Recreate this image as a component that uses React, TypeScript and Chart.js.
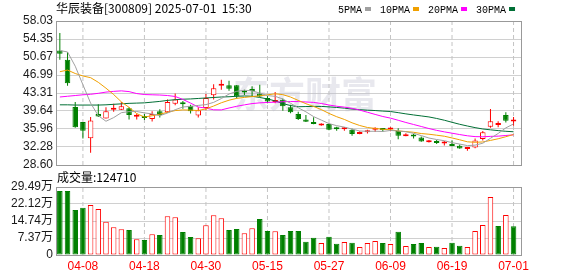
import React, { useEffect, useRef } from 'react';
import { Chart, registerables } from 'chart.js';

Chart.register(...registerables);

// ---------------- data ----------------
const dates = [
  '04-02', '04-03', '04-07', '04-08', '04-09', '04-10', '04-11', '04-14', '04-15', '04-16',
  '04-17', '04-18', '04-21', '04-22', '04-23', '04-24', '04-25', '04-28', '04-29', '04-30',
  '05-06', '05-07', '05-08', '05-09', '05-12', '05-13', '05-14', '05-15', '05-16', '05-19',
  '05-20', '05-21', '05-22', '05-23', '05-26', '05-27', '05-28', '05-29', '05-30', '06-03',
  '06-04', '06-05', '06-06', '06-09', '06-10', '06-11', '06-12', '06-13', '06-16', '06-17',
  '06-18', '06-19', '06-20', '06-23', '06-24', '06-25', '06-26', '06-27', '06-30', '07-01',
];

const openP = [
  52.0, 50.1, 40.45, 37.4, 34.05, 39.0, 38.1, 39.9, 39.9, 40.2,
  38.45, 38.45, 38.0, 39.6, 39.4, 41.1, 41.1, 40.7, 38.7, 40.25,
  42.85, 44.8, 44.9, 44.9, 43.6, 43.9, 43.2, 42.3, 41.5, 41.95,
  40.4, 39.0, 37.9, 37.3, 36.65, 37.0, 36.05, 35.9, 35.8, 34.95,
  35.3, 35.8, 35.9, 35.85, 35.55, 34.5, 34.6, 34.2, 33.25, 33.45,
  33.0, 32.9, 32.55, 31.85, 32.2, 33.9, 36.4, 36.8, 38.8, 37.5,
];
const highP = [
  55.6, 51.7, 41.5, 37.4, 38.4, 41.0, 40.4, 41.1, 41.5, 40.4,
  39.1, 39.0, 39.6, 40.0, 42.0, 43.2, 41.7, 40.9, 40.4, 43.1,
  45.1, 46.0, 45.8, 44.95, 44.0, 44.7, 45.0, 42.7, 43.5, 42.2,
  40.9, 39.5, 38.8, 38.35, 37.15, 37.1, 36.4, 36.35, 36.0, 35.5,
  35.8, 36.3, 36.1, 36.3, 36.1, 35.1, 35.0, 34.4, 33.7, 33.7,
  33.5, 33.6, 32.8, 32.2, 34.0, 35.55, 40.05, 37.55, 39.4, 38.4,
];
const lowP = [
  50.1, 44.8, 36.2, 34.0, 31.1, 38.4, 38.1, 39.5, 39.85, 37.9,
  37.9, 37.8, 37.5, 38.3, 39.3, 40.8, 40.1, 39.1, 38.3, 39.8,
  42.0, 44.0, 43.8, 42.2, 42.9, 42.6, 42.5, 41.2, 41.2, 39.7,
  39.2, 37.8, 37.4, 36.95, 36.6, 35.7, 35.6, 35.6, 34.6, 34.9,
  35.05, 35.35, 35.4, 35.5, 33.85, 34.5, 34.0, 33.35, 33.2, 32.9,
  32.6, 32.45, 31.9, 31.5, 32.0, 33.6, 36.2, 36.3, 37.3, 36.6,
];
const closeP = [
  51.35, 45.3, 36.3, 35.6, 37.7, 38.5, 39.6, 40.05, 40.6, 38.8,
  38.6, 38.2, 39.0, 38.8, 41.5, 42.0, 41.0, 39.6, 39.8, 42.3,
  44.3, 44.9, 44.2, 42.6, 43.4, 43.7, 42.6, 41.6, 41.9, 40.6,
  39.4, 38.0, 37.45, 37.0, 37.05, 35.8, 35.9, 36.0, 34.95, 35.1,
  35.45, 36.0, 35.75, 36.0, 34.6, 34.6, 34.45, 33.4, 33.5, 33.1,
  33.35, 32.5, 31.95, 31.9, 33.6, 35.3, 37.55, 36.85, 37.65, 37.6,
];

const ma5 = [
  52.0, 51.7, 48.8, 45.0, 41.25, 38.68, 37.54, 38.29, 39.29, 39.51,
  39.53, 39.25, 39.04, 38.68, 39.22, 39.9, 40.46, 40.58, 40.78, 40.94,
  41.4, 42.18, 43.1, 43.66, 43.88, 43.76, 43.3, 42.78, 42.64, 42.08,
  41.22, 40.3, 39.47, 38.49, 37.78, 37.06, 36.64, 36.35, 35.94, 35.55,
  35.48, 35.5, 35.45, 35.66, 35.56, 35.39, 35.08, 34.61, 34.11, 33.81,
  33.56, 33.17, 32.88, 32.56, 32.66, 33.05, 34.06, 35.04, 36.19, 36.99,
];
const ma10 = [
  47.67, 48.0, 47.3, 46.79, 46.45, 45.5, 44.3, 43.0, 41.5, 40.38,
  39.11, 38.4, 38.67, 38.99, 39.37, 39.72, 39.86, 39.81, 39.73, 40.08,
  40.65, 41.32, 41.84, 42.22, 42.41, 42.58, 42.74, 42.94, 43.15, 42.98,
  42.49, 41.8, 41.13, 40.57, 39.93, 39.14, 38.47, 37.91, 37.22, 36.67,
  36.27, 36.07, 35.9, 35.8, 35.56, 35.44, 35.29, 35.03, 34.89, 34.69,
  34.48, 34.13, 33.75, 33.34, 33.24, 33.31, 33.62, 33.96, 34.38, 34.83,
];
const ma20 = [
  42.5, 42.65, 42.8, 42.95, 43.05, 43.25, 43.5, 43.65, 43.75, 43.6,
  43.2, 43.0, 42.95, 42.9, 42.8, 42.6, 42.0, 41.25, 40.45, 40.23,
  39.88, 39.86, 40.25, 40.6, 40.89, 41.15, 41.3, 41.38, 41.44, 41.53,
  41.57, 41.56, 41.48, 41.39, 41.17, 40.86, 40.61, 40.43, 40.18, 39.82,
  39.38, 38.94, 38.51, 38.18, 37.74, 37.29, 36.88, 36.47, 36.05, 35.68,
  35.37, 35.1, 34.82, 34.57, 34.4, 34.37, 34.45, 34.5, 34.63, 34.76,
];
const ma30 = [
  40.9, 40.9, 40.85, 40.85, 40.85, 40.85, 40.9, 41.0, 41.1, 41.2,
  41.25, 41.3, 41.45, 41.6, 41.8, 41.95, 42.05, 42.1, 42.2, 42.3,
  42.4, 42.5, 42.55, 42.65, 42.7, 42.65, 42.4, 42.1, 41.7, 41.15,
  40.75, 40.51, 40.54, 40.59, 40.57, 40.48, 40.36, 40.22, 40.03, 39.91,
  39.8, 39.73, 39.62, 39.53, 39.3, 39.05, 38.83, 38.63, 38.42, 38.11,
  37.75, 37.33, 36.92, 36.57, 36.24, 35.96, 35.79, 35.63, 35.49, 35.39,
];

// volume in 万 (10k)
const volume = [
  27.76, 27.76, 19.52, 20.53, 21.69, 19.95, 14.46, 11.99, 11.13, 10.84,
  6.79, 6.5, 8.96, 8.67, 16.77, 16.33, 9.97, 7.81, 7.23, 12.86,
  17.2, 15.9, 10.84, 11.28, 9.4, 11.56, 15.61, 10.41, 10.26, 8.67,
  10.41, 10.41, 5.78, 7.52, 5.2, 7.95, 4.91, 5.64, 5.35, 3.47,
  5.2, 6.07, 5.2, 4.77, 10.12, 3.9, 4.77, 5.2, 3.47, 3.61,
  3.04, 5.35, 4.05, 3.47, 10.41, 13.01, 25.15, 12.58, 17.35, 12.47,
];
// 1 = red (up) volume bar, 0 = green
const volumeUp = [
  0, 0, 0, 0, 1, 1, 1, 1, 1, 0,
  1, 0, 1, 0, 1, 1, 0, 0, 1, 1,
  1, 1, 0, 0, 1, 1, 0, 0, 1, 0,
  0, 0, 0, 0, 1, 0, 0, 1, 0, 1,
  1, 1, 0, 1, 0, 1, 0, 0, 1, 0,
  1, 0, 0, 1, 1, 1, 1, 0, 1, 0,
];

const priceTicks = [58.03, 54.35, 50.67, 46.99, 43.31, 39.64, 35.96, 32.28, 28.6];
const volumeTicks = [29.49, 22.12, 14.74, 7.37, 0];
const tickDates = ['04-08', '04-18', '04-30', '05-15', '05-27', '06-09', '06-19', '07-01'];

const stockName = '华辰装备';
const stockCode = '300809';
const stamp = '2025-07-01  15:30';
const lastVolume = 124710;
const maLabels = ['5PMA', '10PMA', '20PMA', '30PMA'];

// ---------------- styles ----------------
const RED = '#ff0000';
const GREEN = '#008000';
const MA_COLORS = ['#a0a0a0', '#f0a000', '#ff00ff', '#006f35'];
const TICK_FONT = "'Liberation Sans', Arial, 'Noto Sans CJK SC', sans-serif";
const CJK_FONT = "'Noto Sans CJK SC', sans-serif";
const X_MIN = -0.5;
const X_MAX = 60.1;
const PRICE_MIN = priceTicks[priceTicks.length - 1];
const PRICE_MAX = priceTicks[0];
const VOL_MAX = volumeTicks[0];

const idx = dates.map((_, i) => i);
const tickIdx = tickDates.map((d) => dates.indexOf(d));
const isUp = (i: number) => closeP[i] >= openP[i];

// vertical dashed guide lines at the labelled dates, as line datasets on the library scales
const guideSets = (lo: number, hi: number) =>
  tickIdx.map((t) => ({
    type: 'line',
    data: [
      { x: t, y: lo },
      { x: t, y: hi },
    ],
    borderColor: '#c4c4c4',
    borderWidth: 1,
    borderDash: [4, 3],
    pointRadius: 0,
    tension: 0,
    fill: false,
    order: 10,
  }));

const framePlugin = {
  id: 'frameBox',
  afterDraw(chart: any) {
    const { ctx, chartArea: a } = chart;
    ctx.save();
    ctx.strokeStyle = '#999999';
    ctx.lineWidth = 1;
    ctx.setLineDash([]);
    ctx.strokeRect(a.left + 0.5, a.top + 0.5, a.right - a.left - 1, a.bottom - a.top);
    ctx.restore();
  },
};

const watermarkPlugin = {
  id: 'watermark',
  beforeDatasetsDraw(chart: any) {
    const { ctx } = chart;
    ctx.save();
    ctx.font = `bold 36px ${CJK_FONT}`;
    ctx.fillStyle = 'rgba(190,190,205,0.35)';
    ctx.textBaseline = 'alphabetic';
    ctx.fillText('东方财富', 233, 108);
    ctx.restore();
  },
};

const headerPlugin = {
  id: 'header',
  afterDraw(chart: any) {
    const { ctx } = chart;
    ctx.save();
    ctx.fillStyle = '#000';
    ctx.textBaseline = 'alphabetic';
    ctx.font = `12px ${CJK_FONT}`;
    ctx.fillText(`${stockName}[${stockCode}] ${stamp}`, 56, 13);
    ctx.font = "10px 'Liberation Mono', monospace";
    let x = 338;
    maLabels.forEach((lab, k) => {
      ctx.fillStyle = '#000';
      ctx.fillText(lab, x, 12.5);
      const w = ctx.measureText(lab).width;
      ctx.fillStyle = MA_COLORS[k];
      ctx.fillRect(x + w + 3, 7, 6, 4);
      x = x + w + 3 + 6 + 9;
    });
    ctx.restore();
  },
};

const volLabelPlugin = {
  id: 'volLabel',
  afterDraw(chart: any) {
    const { ctx } = chart;
    ctx.save();
    ctx.fillStyle = '#000';
    ctx.font = `12px ${CJK_FONT}`;
    ctx.textBaseline = 'alphabetic';
    ctx.fillText(`成交量:${lastVolume}`, 57, 13.5);
    ctx.restore();
  },
};

export default function App() {
  const priceRef = useRef<HTMLCanvasElement>(null);
  const volRef = useRef<HTMLCanvasElement>(null);

  useEffect(() => {
    const xScaleBase = {
      type: 'linear' as const,
      min: X_MIN,
      max: X_MAX,
      offset: false,
      bounds: 'data',
      afterBuildTicks: (s: any) => {
        s.ticks = tickIdx.map((v) => ({ value: v }));
      },
      grid: { display: false, drawTicks: false, offset: false },
      border: { display: false },
    };

    const yTickFont = { family: TICK_FONT, size: 12 };

    const priceChart = new Chart(priceRef.current as HTMLCanvasElement, {
      type: 'bar',
      data: {
        datasets: [
          ...(guideSets(PRICE_MIN, PRICE_MAX) as any),
          {
            type: 'bar',
            data: idx.map((i) => ({ x: i, y: [lowP[i], highP[i]] })) as any,
            backgroundColor: idx.map((i) => (isUp(i) ? RED : GREEN)),
            borderWidth: 0,
            maxBarThickness: 1,
            grouped: false,
            inflateAmount: 0,
            order: 3,
          } as any,
          {
            type: 'bar',
            data: idx.map((i) => ({ x: i, y: [openP[i], closeP[i]] })) as any,
            backgroundColor: idx.map((i) => (isUp(i) ? '#ffffff' : GREEN)),
            borderColor: idx.map((i) => (isUp(i) ? RED : GREEN)),
            borderWidth: 1,
            borderSkipped: false,
            maxBarThickness: 6,
            minBarLength: 2,
            grouped: false,
            inflateAmount: 0,
            order: 2,
          } as any,
          ...[ma5, ma10, ma20, ma30].map((s, k) => ({
            type: 'line',
            data: idx.map((i) => ({ x: i, y: s[i] })),
            borderColor: MA_COLORS[k],
            borderWidth: 1,
            pointRadius: 0,
            tension: 0,
            fill: false,
            order: 1,
          })) as any,
        ],
      },
      options: {
        responsive: false,
        animation: false,
        devicePixelRatio: 1,
        events: [],
        layout: { padding: { top: 21, right: 56, bottom: 15, left: 0 } },
        plugins: { legend: { display: false }, tooltip: { enabled: false } },
        scales: {
          x: {
            ...xScaleBase,
            ticks: { display: false },
            afterFit: (s: any) => {
              s.height = 0;
            },
          },
          y: {
            type: 'linear',
            min: PRICE_MIN,
            max: PRICE_MAX,
            afterBuildTicks: (s: any) => {
              s.ticks = priceTicks.map((v) => ({ value: v }));
            },
            ticks: {
              autoSkip: false,
              callback: (v: any) => Number(v).toFixed(2),
              padding: 3,
              color: '#1a1a1a',
              font: yTickFont,
            },
            grid: { color: '#d0d0d0', drawTicks: false },
            border: { display: false },
            afterFit: (s: any) => {
              s.width = 56;
            },
          },
        },
      } as any,
      plugins: [watermarkPlugin, framePlugin, headerPlugin],
    });

    const volChart = new Chart(volRef.current as HTMLCanvasElement, {
      type: 'bar',
      data: {
        datasets: [
          ...(guideSets(0, VOL_MAX) as any),
          {
            type: 'bar',
            data: idx.map((i) => ({ x: i, y: volume[i] })) as any,
            backgroundColor: idx.map((i) => (volumeUp[i] ? '#ffffff' : GREEN)),
            borderColor: idx.map((i) => (volumeUp[i] ? RED : GREEN)),
            borderWidth: 1,
            borderSkipped: false,
            maxBarThickness: 6,
            grouped: false,
            inflateAmount: 0,
            order: 1,
          } as any,
        ],
      },
      options: {
        responsive: false,
        animation: false,
        devicePixelRatio: 1,
        events: [],
        layout: { padding: { top: 19, right: 56, bottom: 0, left: 0 } },
        plugins: { legend: { display: false }, tooltip: { enabled: false } },
        scales: {
          x: {
            ...xScaleBase,
            ticks: {
              display: true,
              autoSkip: false,
              maxRotation: 0,
              minRotation: 0,
              padding: 4,
              color: RED,
              font: { family: TICK_FONT, size: 12 },
              callback: (v: any) => dates[Math.round(Number(v))] ?? '',
            },
            afterFit: (s: any) => {
              s.height = 21;
            },
          },
          y: {
            type: 'linear',
            min: 0,
            max: VOL_MAX,
            afterBuildTicks: (s: any) => {
              s.ticks = volumeTicks.map((v) => ({ value: v }));
            },
            ticks: {
              autoSkip: false,
              callback: (v: any) => (Number(v) === 0 ? '0' : Number(v).toFixed(2) + '万'),
              padding: 3,
              color: '#1a1a1a',
              font: yTickFont,
            },
            grid: { color: '#d0d0d0', drawTicks: false },
            border: { display: false },
            afterFit: (s: any) => {
              s.width = 56;
            },
          },
        },
      } as any,
      plugins: [framePlugin, volLabelPlugin],
    });

    return () => {
      priceChart.destroy();
      volChart.destroy();
    };
  }, []);

  return (
    <div style={{ position: 'fixed', left: 0, top: 0, width: 578, height: 276, background: '#ffffff' }}>
      <canvas ref={priceRef} width={578} height={180} style={{ position: 'absolute', left: 0, top: 0 }} />
      <canvas ref={volRef} width={578} height={108} style={{ position: 'absolute', left: 0, top: 168 }} />
    </div>
  );
}
